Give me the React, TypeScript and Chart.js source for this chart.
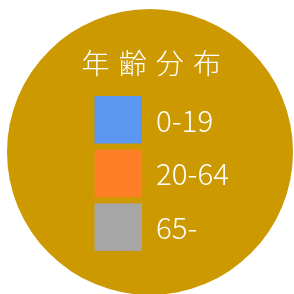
import React, { useEffect, useRef } from 'react';
import { Chart, registerables } from 'chart.js';

Chart.register(...registerables);

const TITLE = '年齢分布';
const AGE_GROUPS = ['0-19', '20-64', '65-'];
const GROUP_COLORS = ['#5b96f1', '#fe7f26', '#a6a6a6'];
const DISC_VALUES = [1];
const DISC_COLOR = '#cc9a00';

const FONT = '"Noto Sans CJK JP", "Noto Sans", sans-serif';

const legendPlugin = {
  id: 'centerLegend',
  afterDraw(chart: any) {
    const { ctx, chartArea } = chart;
    const cx = (chartArea.left + chartArea.right) / 2;
    const cy = (chartArea.top + chartArea.bottom) / 2;
    ctx.save();
    ctx.fillStyle = '#ffffff';
    ctx.textBaseline = 'middle';
    ctx.textAlign = 'center';
    ctx.font = `300 28px ${FONT}`;
    const chars = Array.from(TITLE);
    const step = 37.2;
    chars.forEach((c, i) => {
      ctx.fillText(c, cx + 1.25 + (i - (chars.length - 1) / 2) * step, cy - 88.5);
    });
    ctx.textAlign = 'left';
    ctx.font = `300 29.5px ${FONT}`;
    AGE_GROUPS.forEach((label, i) => {
      const top = cy - 56 + i * 53.7;
      ctx.fillStyle = GROUP_COLORS[i];
      ctx.fillRect(cx - 55.5, top, 47.5, 47.5);
      ctx.fillStyle = '#ffffff';
      ctx.fillText(label, cx + 6, top + 24.5);
    });
    ctx.restore();
  },
};

export default function App() {
  const ref = useRef<HTMLCanvasElement>(null);
  useEffect(() => {
    if (!ref.current) return;
    const chart = new Chart(ref.current, {
      type: 'pie',
      data: {
        labels: [TITLE],
        datasets: [
          {
            data: DISC_VALUES,
            backgroundColor: DISC_COLOR,
            borderWidth: 0,
          },
        ],
      },
      options: {
        responsive: false,
        animation: false,
        layout: { padding: { left: 7, right: 1, top: 9, bottom: 1 } },
        plugins: {
          legend: { display: false },
          tooltip: { enabled: false },
        },
      },
      plugins: [legendPlugin],
    });
    return () => chart.destroy();
  }, []);
  return (
    <div style={{ position: 'fixed', left: 0, top: 0, width: 294, height: 294, overflow: 'hidden', background: '#fff' }}>
      <canvas ref={ref} width={294} height={296} style={{ display: 'block' }} />
    </div>
  );
}
